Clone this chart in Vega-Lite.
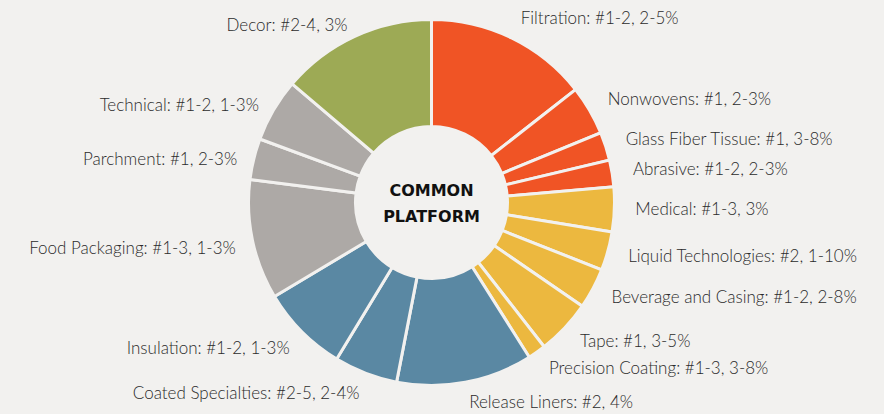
{
  "$schema": "https://vega.github.io/schema/vega-lite/v6.json",
  "width": 863,
  "height": 405,
  "autosize": {"type": "none"},
  "padding": {"left": 0, "top": 0, "right": 21, "bottom": 9},
  "background": "#F2F1EF",
  "view": {"stroke": null},
  "datasets": {
    "segments": [
      {"order": 1, "name": "Filtration", "label": "Filtration: #1-2, 2-5%", "group": "Orange", "span": 51.9},
      {"order": 2, "name": "Nonwovens", "label": "Nonwovens: #1, 2-3%", "group": "Orange", "span": 15.7},
      {"order": 3, "name": "Glass Fiber Tissue", "label": "Glass Fiber Tissue: #1, 3-8%", "group": "Orange", "span": 9.0},
      {"order": 4, "name": "Abrasive", "label": "Abrasive: #1-2, 2-3%", "group": "Orange", "span": 8.5},
      {"order": 5, "name": "Medical", "label": "Medical: #1-3, 3%", "group": "Yellow", "span": 14.2},
      {"order": 6, "name": "Liquid Technologies", "label": "Liquid Technologies: #2, 1-10%", "group": "Yellow", "span": 12.3},
      {"order": 7, "name": "Beverage and Casing", "label": "Beverage and Casing: #1-2, 2-8%", "group": "Yellow", "span": 12.9},
      {"order": 8, "name": "Tape", "label": "Tape: #1, 3-5%", "group": "Yellow", "span": 17.5},
      {"order": 9, "name": "Precision Coating", "label": "Precision Coating: #1-3, 3-8%", "group": "Yellow", "span": 5.7},
      {"order": 10, "name": "Release Liners", "label": "Release Liners: #2, 4%", "group": "Blue", "span": 43.3},
      {"order": 11, "name": "Coated Specialties", "label": "Coated Specialties: #2-5, 2-4%", "group": "Blue", "span": 20.2},
      {"order": 12, "name": "Insulation", "label": "Insulation: #1-2, 1-3%", "group": "Blue", "span": 27.9},
      {"order": 13, "name": "Food Packaging", "label": "Food Packaging: #1-3, 1-3%", "group": "Gray", "span": 38.1},
      {"order": 14, "name": "Parchment", "label": "Parchment: #1, 2-3%", "group": "Gray", "span": 13.1},
      {"order": 15, "name": "Technical", "label": "Technical: #1-2, 1-3%", "group": "Gray", "span": 20.1},
      {"order": 16, "name": "Decor", "label": "Decor: #2-4, 3%", "group": "Green", "span": 49.6}
    ],
    "center": [{"text": ["COMMON", "PLATFORM"]}]
  },
  "layer": [
    {
      "data": {"name": "segments"},
      "transform": [
        {"window": [{"op": "sum", "field": "span", "as": "end"}], "sort": [{"field": "order"}], "frame": [null, 0]},
        {"calculate": "datum.end - datum.span", "as": "start"}
      ],
      "mark": {"type": "arc", "innerRadius": 76, "outerRadius": 183, "stroke": "#F2F1EF", "strokeWidth": 3},
      "encoding": {
        "theta": {"field": "start", "type": "quantitative", "stack": null, "scale": {"domain": [0, 360]}},
        "theta2": {"field": "end"},
        "color": {
          "field": "group", "type": "nominal", "legend": null,
          "scale": {"domain": ["Orange", "Yellow", "Blue", "Gray", "Green"], "range": ["#F05425", "#ECB83F", "#5A88A3", "#ADA9A6", "#9DAA55"]}
        }
      }
    },
    {
      "data": {"name": "segments"},
      "transform": [
        {"window": [{"op": "sum", "field": "span", "as": "end"}], "sort": [{"field": "order"}], "frame": [null, 0]},
        {"calculate": "datum.end - datum.span / 2", "as": "mid"},
        {"filter": "datum.mid < 180"}
      ],
      "mark": {"type": "text", "radius": 204, "align": "left", "baseline": "middle", "font": "Lato", "fontWeight": 300, "fontSize": 17, "color": "#2b2b2b"},
      "encoding": {
        "theta": {"field": "mid", "type": "quantitative", "stack": null, "scale": {"domain": [0, 360]}},
        "text": {"field": "label"}
      }
    },
    {
      "data": {"name": "segments"},
      "transform": [
        {"window": [{"op": "sum", "field": "span", "as": "end"}], "sort": [{"field": "order"}], "frame": [null, 0]},
        {"calculate": "datum.end - datum.span / 2", "as": "mid"},
        {"filter": "datum.mid >= 180"}
      ],
      "mark": {"type": "text", "radius": 200, "dy": 5, "align": "right", "baseline": "middle", "font": "Lato", "fontWeight": 300, "fontSize": 17, "color": "#2b2b2b"},
      "encoding": {
        "theta": {"field": "mid", "type": "quantitative", "stack": null, "scale": {"domain": [0, 360]}},
        "text": {"field": "label"}
      }
    },
    {
      "data": {"name": "center"},
      "mark": {"type": "text", "align": "center", "baseline": "middle", "dy": -12, "font": "DejaVu Sans", "fontWeight": "bold", "fontSize": 16, "lineHeight": 26, "color": "#111111"},
      "encoding": {"text": {"field": "text"}}
    }
  ]
}
